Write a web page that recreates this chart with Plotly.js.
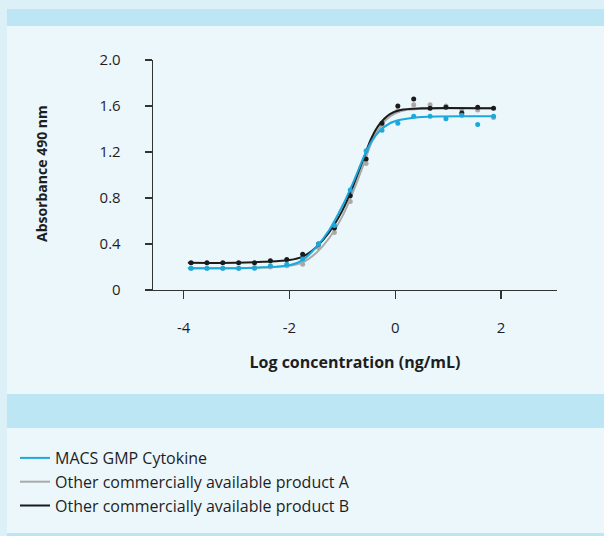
<!DOCTYPE html>
<html>
<head>
<meta charset="utf-8">
<script src="https://cdn.plot.ly/plotly-3.0.1.min.js"></script>
<style>
  html, body { margin: 0; padding: 0; background: #ecf7fc; }
  #chart { width: 604px; height: 536px; }
</style>
</head>
<body>
<div id="chart"></div>
<script>
// ---- data ----
const seriesNames = ["MACS GMP Cytokine", "Other commercially available product A", "Other commercially available product B"];
const xTitle = "Log concentration (ng/mL)";
const yTitle = "Absorbance 490 nm";

// log concentration of the 2-fold dilution points
const logConc = [-3.86, -3.56, -3.26, -2.96, -2.66, -2.36, -2.05, -1.75, -1.45, -1.15,
                 -0.85, -0.55, -0.25, 0.05, 0.35, 0.66, 0.96, 1.26, 1.56, 1.86];

const macsPoints  = [0.19, 0.19, 0.19, 0.19, 0.19, 0.21, 0.225, 0.27, 0.40, 0.56,
                     0.87, 1.21, 1.39, 1.45, 1.51, 1.51, 1.49, 1.52, 1.44, 1.51];
const prodAPoints = [0.19, 0.19, 0.19, 0.19, 0.195, 0.20, 0.21, 0.225, 0.37, 0.50,
                     0.77, 1.10, 1.43, 1.56, 1.61, 1.61, 1.60, 1.57, 1.565, 1.50];
const prodBPoints = [0.236, 0.236, 0.236, 0.236, 0.236, 0.255, 0.265, 0.31, 0.40, 0.54,
                     0.82, 1.14, 1.45, 1.60, 1.66, 1.58, 1.59, 1.54, 1.59, 1.58];

// fitted curves at these positions
const fitX     = [-3.92, -3.0, -2.5, -2.0, -1.75, -1.5, -1.25, -1.0, -0.8, -0.6, -0.45, -0.3, -0.1, 0.1, 0.5, 1.86];
const macsFit  = [0.19, 0.19, 0.197, 0.215, 0.26, 0.37, 0.52, 0.73, 0.93, 1.15, 1.29, 1.38, 1.45, 1.48, 1.505, 1.51];
const prodAFit = [0.19, 0.19, 0.195, 0.21, 0.24, 0.32, 0.45, 0.64, 0.85, 1.09, 1.28, 1.41, 1.51, 1.555, 1.575, 1.58];
const prodBFit = [0.236, 0.237, 0.245, 0.26, 0.29, 0.37, 0.50, 0.69, 0.90, 1.14, 1.32, 1.44, 1.53, 1.565, 1.58, 1.58];

const yTickVals = [0, 0.4, 0.8, 1.2, 1.6, 2.0];
const yTickText = ["0", "0.4", "0.8", "1.2", "1.6", "2.0"];
const xTickVals = [-4, -2, 0, 2];
const xTickText = ["-4", "-2", "0", "2"];

// ---- styling ----
const colMacs = "#1ba9dc";
const colA = "#a9a9a9";
const colB = "#1b1b1b";
const FONT = "'Open Sans', 'Noto Sans', sans-serif";

const W = 604, H = 536;
const M = {l: 153, r: 47, t: 60, b: 246, autoexpand: false};
const PW = W - M.l - M.r, PH = H - M.t - M.b;
function px(x) { return (x - M.l) / PW; }
function py(y) { return (H - M.b - y) / PH; }
function band(x0, y0, x1, y1, color) {
  return {type: "rect", xref: "paper", yref: "paper", layer: "below",
          x0: px(x0), x1: px(x1), y0: py(y1), y1: py(y0),
          fillcolor: color, line: {width: 0}};
}

function pts(y, color, name) {
  return {x: logConc, y: y, type: "scatter", mode: "markers", name: name,
          showlegend: false, hoverinfo: "x+y",
          marker: {color: color, size: 5}};
}
function fit(y, color, name, rank) {
  return {x: fitX, y: y, type: "scatter", mode: "lines", name: name,
          legendrank: rank, legendgroup: name,
          line: {color: color, width: 2, shape: "spline", smoothing: 1}};
}

const data = [
  pts(prodAPoints, colA, seriesNames[1]),
  fit(prodAFit, colA, seriesNames[1], 2),
  pts(prodBPoints, colB, seriesNames[2]),
  fit(prodBFit, colB, seriesNames[2], 3),
  pts(macsPoints, colMacs, seriesNames[0]),
  fit(macsFit, colMacs, seriesNames[0], 1)
];

const layout = {
  width: W, height: H,
  margin: M,
  paper_bgcolor: "#ecf7fc",
  plot_bgcolor: "rgba(0,0,0,0)",
  font: {family: FONT, color: "#1e1e1e", size: 15},
  showlegend: true,
  legend: {
    xref: "container", yref: "container",
    x: 15 / W, y: 1 - 441 / H, xanchor: "left", yanchor: "top",
    bgcolor: "rgba(0,0,0,0)",
    font: {family: FONT, size: 16, color: "#1e1e1e"},
    tracegroupgap: 0,
    itemclick: false, itemdoubleclick: false
  },
  xaxis: {
    range: [-4.58, 3.06],
    tickvals: xTickVals, ticktext: xTickText,
    ticks: "outside", ticklen: 8, tickwidth: 1.3, tickcolor: "#333",
    showline: true, linecolor: "#333", linewidth: 1.3,
    showgrid: false, zeroline: false,
    ticklabelstandoff: 16,
    tickfont: {family: FONT, size: 15, color: "#1e1e1e"},
    title: {text: xTitle, standoff: 20,
            font: {family: FONT, size: 16, color: "#1e1e1e", weight: "bold"}},
    fixedrange: true
  },
  yaxis: {
    range: [0, 2.0],
    tickvals: yTickVals, ticktext: yTickText,
    ticks: "outside", ticklen: 7, tickwidth: 1.3, tickcolor: "#333",
    showline: true, linecolor: "#333", linewidth: 1.3,
    showgrid: false, zeroline: false,
    ticklabelstandoff: 21,
    tickfont: {family: FONT, size: 15, color: "#1e1e1e"},
    fixedrange: true
  },
  annotations: [
    {text: yTitle, textangle: -90, showarrow: false,
     xref: "paper", yref: "paper", x: px(41), y: py(173),
     xanchor: "center", yanchor: "middle",
     font: {family: FONT, size: 14, color: "#1e1e1e", weight: "bold"}}
  ],
  shapes: [
    band(0, 0, 604, 9, "#dcf0f8"),
    band(0, 0, 7, 536, "#dcf0f8"),
    band(7, 9, 604, 26, "#bce6f3"),
    band(7, 394, 604, 428, "#bce6f3"),
    band(7, 533, 604, 536, "#bce6f3")
  ]
};

Plotly.newPlot("chart", data, layout, {displayModeBar: false, staticPlot: true});
</script>
</body>
</html>
